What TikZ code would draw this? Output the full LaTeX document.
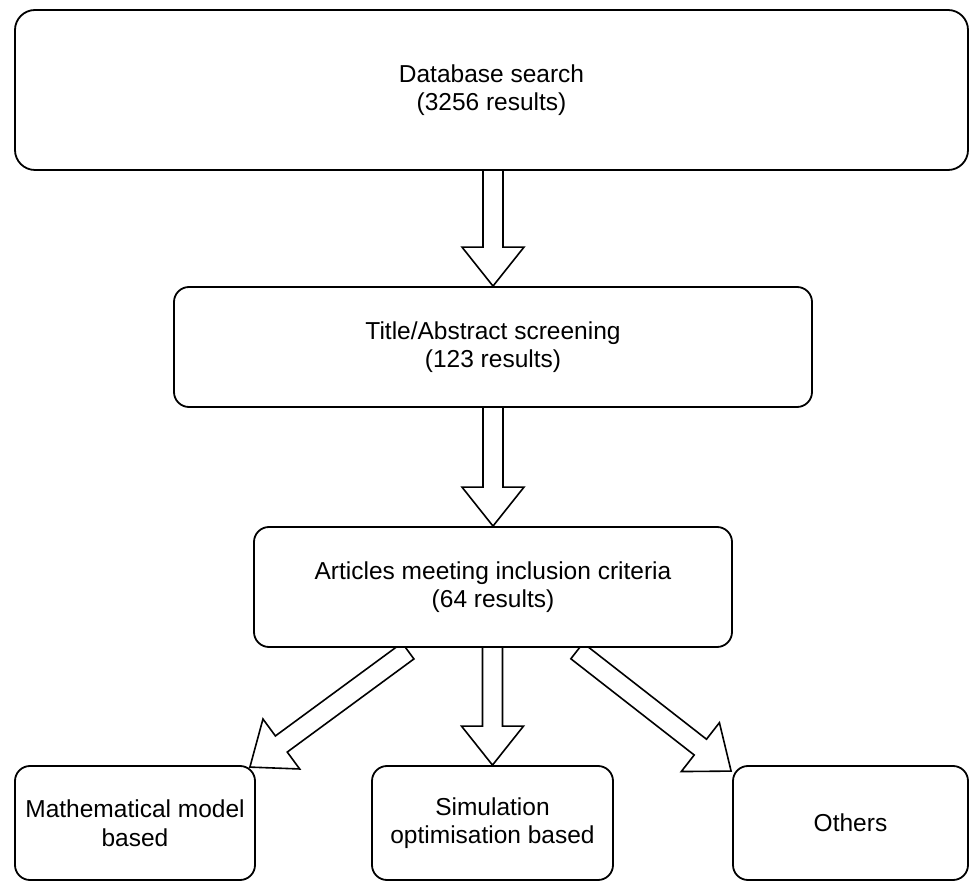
\documentclass[tikz,border=0pt]{standalone}
\usepackage{fontspec}
\setmainfont{Liberation Sans}
\usetikzlibrary{calc,backgrounds}
\tikzset{
  box/.style={draw=black, line width=1.8pt, fill=white, rounded corners=15pt,
    align=center, inner sep=0pt, font=\fontsize{24.5}{28.5}\selectfont},
  barrow/.style={draw=black, line width=1.6pt, fill=white, line join=miter}
}
\newcommand\blockarrow[2]{%
  \coordinate (ba-h) at ($(#2)!39pt!(#1)$);
  \draw[barrow] ($(#1)!10pt!90:(#2)$) -- ($(ba-h)!10pt!-90:(#1)$) -- ($(ba-h)!31pt!-90:(#1)$)
    -- (#2) -- ($(ba-h)!31pt!90:(#1)$) -- ($(ba-h)!10pt!90:(#1)$) -- ($(#1)!10pt!-90:(#2)$) -- cycle;}
\begin{document}
\begin{tikzpicture}[x=1pt,y=-1pt]
\useasboundingbox (0,0) rectangle (970,882);
\path
  node[box, minimum width=953pt, minimum height=160pt, rounded corners=20pt] (a) at (491.5,90) {Database search\\(3256 results)}
  node[box, minimum width=638pt, minimum height=120pt] (b) at (493,347) {Title/Abstract screening\\(123 results)}
  node[box, minimum width=478pt, minimum height=120pt] (c) at (493,587) {Articles meeting inclusion criteria\\(64 results)}
  node[box, minimum width=240pt, minimum height=114pt] (m) at (135,823) {Mathematical model\\based}
  node[box, minimum width=241pt, minimum height=114pt] (s) at (492.5,823) {Simulation\\optimisation based}
  node[box, minimum width=235pt, minimum height=114pt] (o) at (850.5,823) {Others};
\coordinate (t1) at ($(b.north |- a.south)+(0,-4)$);
\coordinate (t2) at ($(c.north |- b.south)+(0,-4)$);
\coordinate (t3) at ($(s.north |- c.south)+(0,-4)$);
\coordinate (tl) at ($(c.south)+(-85,3)$);
\coordinate (tr) at ($(c.south)+(84,3)$);
\coordinate (el) at ($(m.north east)+(-6,2)$);
\coordinate (er) at ($(o.north west)+(-1,6)$);
\begin{scope}[on background layer]
\blockarrow{t1}{b.north}
\blockarrow{t2}{c.north}
\blockarrow{t3}{s.north}
\blockarrow{tl}{el}
\blockarrow{tr}{er}
\end{scope}
\end{tikzpicture}
\end{document}
